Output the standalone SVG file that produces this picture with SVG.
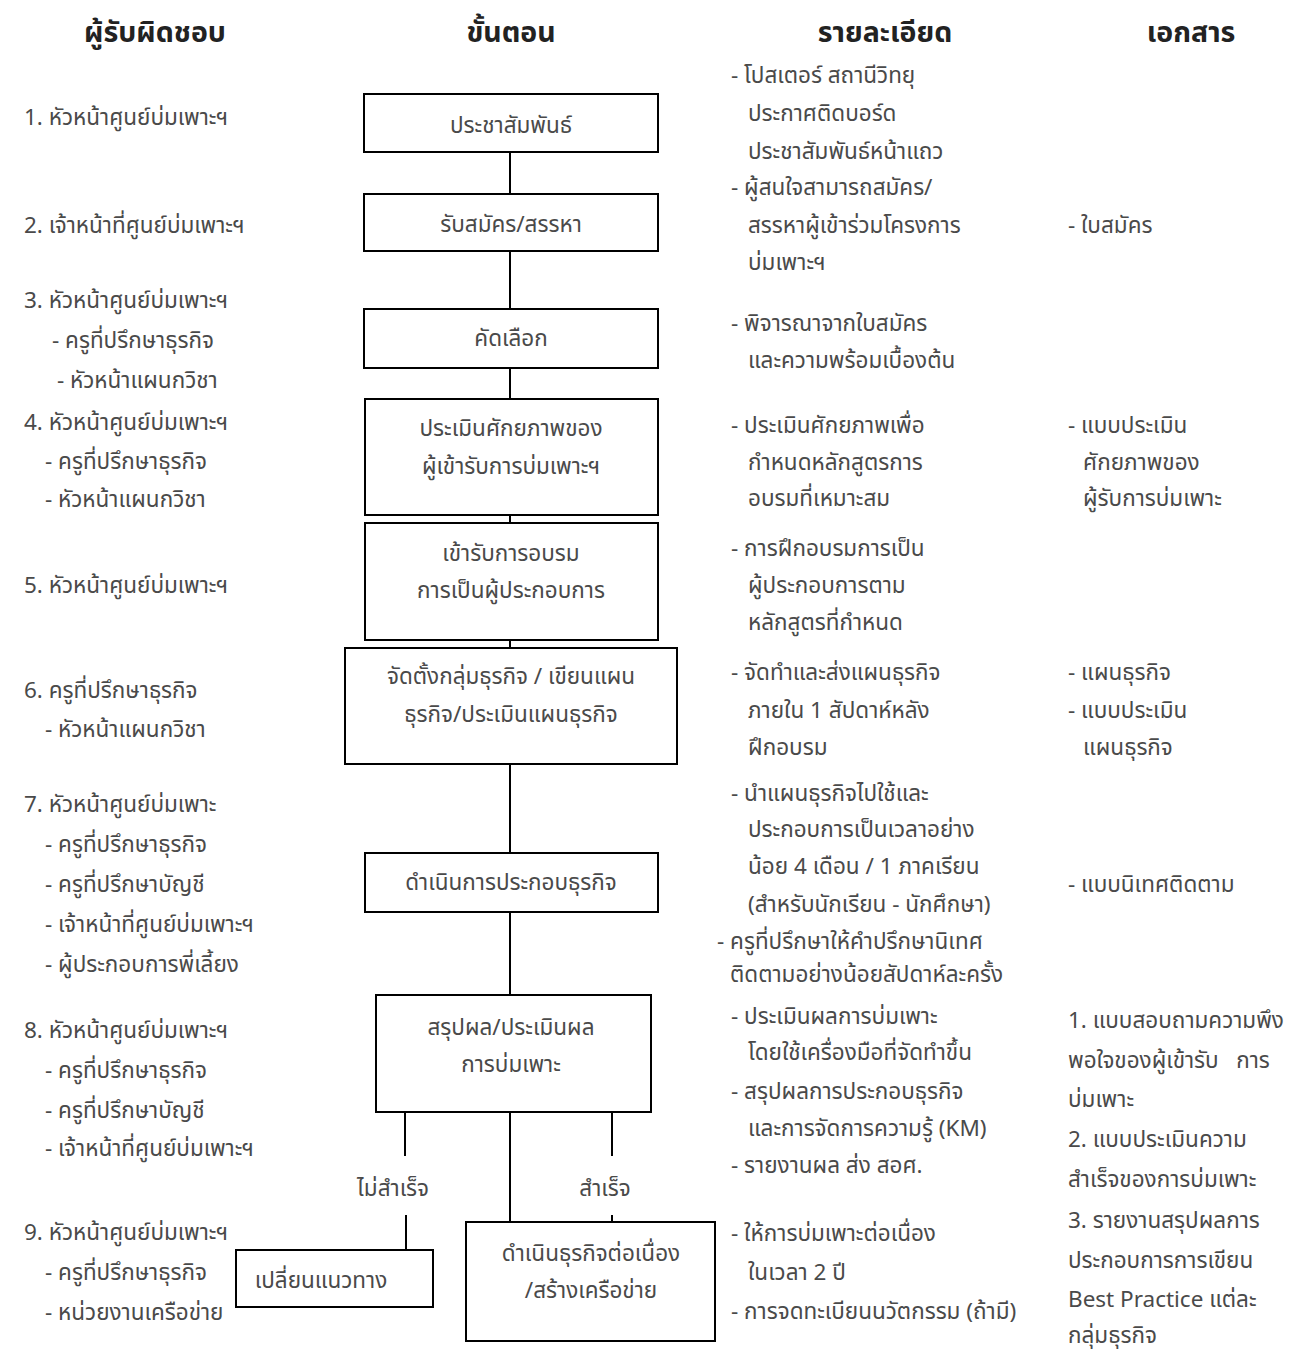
<svg xmlns="http://www.w3.org/2000/svg" width="1309" height="1353" viewBox="0 0 1309 1353">
<style>
.h{font-family:"Noto Sans Thai","Leelawadee UI",Tahoma,"Noto Sans","DejaVu Sans",sans-serif;font-size:28.5px;font-weight:bold;fill:#222;text-anchor:middle}
.t{font-family:"Noto Sans Thai","Leelawadee UI",Tahoma,"Noto Sans","DejaVu Sans",sans-serif;font-size:22.5px;fill:#4a4a4a}
.c{text-anchor:middle}
.box{fill:#fff;stroke:#000;stroke-width:2}
.ln{stroke:#000;stroke-width:2;fill:none}
</style>
<rect width="1309" height="1353" fill="#fff"/>
<g id="headers">
<text class="h" x="155" y="42">ผู้รับผิดชอบ</text>
<text class="h" x="511" y="42">ขั้นตอน</text>
<text class="h" x="885" y="42">รายละเอียด</text>
<text class="h" x="1191" y="42">เอกสาร</text>
</g>
<g id="connectors">
<line class="ln" x1="510" y1="152" x2="510" y2="194"/>
<line class="ln" x1="510" y1="251" x2="510" y2="309"/>
<line class="ln" x1="510" y1="368" x2="510" y2="399"/>
<line class="ln" x1="510" y1="515" x2="510" y2="523"/>
<line class="ln" x1="510" y1="640" x2="510" y2="648"/>
<line class="ln" x1="510" y1="764" x2="510" y2="853"/>
<line class="ln" x1="510" y1="912" x2="510" y2="995"/>
<line class="ln" x1="510" y1="1112" x2="510" y2="1222"/>
<line class="ln" x1="405" y1="1112" x2="405" y2="1156"/>
<line class="ln" x1="612" y1="1112" x2="612" y2="1156"/>
<line class="ln" x1="406" y1="1215" x2="406" y2="1250"/>
<line class="ln" x1="612" y1="1215" x2="612" y2="1222"/>
<text class="t c" x="393" y="1196">ไม่สำเร็จ</text>
<text class="t c" x="605" y="1196">สำเร็จ</text>
</g>
<g id="n1"><rect class="box" x="364" y="94" width="294" height="58"/><text class="t c" x="511" y="133">ประชาสัมพันธ์</text></g>
<g id="n2"><rect class="box" x="364" y="194" width="294" height="57"/><text class="t c" x="511" y="232">รับสมัคร/สรรหา</text></g>
<g id="n3"><rect class="box" x="364" y="309" width="294" height="59"/><text class="t c" x="511" y="346">คัดเลือก</text></g>
<g id="n4"><rect class="box" x="365" y="399" width="293" height="116"/><text class="t c" x="511" y="436">ประเมินศักยภาพของ</text><text class="t c" x="511" y="474">ผู้เข้ารับการบ่มเพาะฯ</text></g>
<g id="n5"><rect class="box" x="365" y="523" width="293" height="117"/><text class="t c" x="511" y="561">เข้ารับการอบรม</text><text class="t c" x="511" y="598">การเป็นผู้ประกอบการ</text></g>
<g id="n6"><rect class="box" x="345" y="648" width="332" height="116"/><text class="t c" x="511" y="684">จัดตั้งกลุ่มธุรกิจ / เขียนแผน</text><text class="t c" x="511" y="722">ธุรกิจ/ประเมินแผนธุรกิจ</text></g>
<g id="n7"><rect class="box" x="365" y="853" width="293" height="59"/><text class="t c" x="511" y="890">ดำเนินการประกอบธุรกิจ</text></g>
<g id="n8"><rect class="box" x="376" y="995" width="275" height="117"/><text class="t c" x="511" y="1035">สรุปผล/ประเมินผล</text><text class="t c" x="511" y="1072">การบ่มเพาะ</text></g>
<g id="n9a"><rect class="box" x="236" y="1250" width="197" height="57"/><text class="t c" x="321" y="1288">เปลี่ยนแนวทาง</text></g>
<g id="n9b"><rect class="box" x="466" y="1222" width="249" height="119"/><text class="t c" x="591" y="1261">ดำเนินธุรกิจต่อเนื่อง</text><text class="t c" x="591" y="1298">/สร้างเครือข่าย</text></g>
<g id="responsible">
<text class="t" x="24" y="125">1. หัวหน้าศูนย์บ่มเพาะฯ</text>
<text class="t" x="24" y="233">2. เจ้าหน้าที่ศูนย์บ่มเพาะฯ</text>
<text class="t" x="24" y="308">3. หัวหน้าศูนย์บ่มเพาะฯ</text>
<text class="t" x="52" y="348">- ครูที่ปรึกษาธุรกิจ</text>
<text class="t" x="57" y="388">- หัวหน้าแผนกวิชา</text>
<text class="t" x="24" y="430">4. หัวหน้าศูนย์บ่มเพาะฯ</text>
<text class="t" x="45" y="469">- ครูที่ปรึกษาธุรกิจ</text>
<text class="t" x="45" y="507">- หัวหน้าแผนกวิชา</text>
<text class="t" x="24" y="593">5. หัวหน้าศูนย์บ่มเพาะฯ</text>
<text class="t" x="24" y="698">6. ครูที่ปรึกษาธุรกิจ</text>
<text class="t" x="45" y="737">- หัวหน้าแผนกวิชา</text>
<text class="t" x="24" y="812">7. หัวหน้าศูนย์บ่มเพาะ</text>
<text class="t" x="45" y="852">- ครูที่ปรึกษาธุรกิจ</text>
<text class="t" x="45" y="892">- ครูที่ปรึกษาบัญชี</text>
<text class="t" x="45" y="932">- เจ้าหน้าที่ศูนย์บ่มเพาะฯ</text>
<text class="t" x="45" y="972">- ผู้ประกอบการพี่เลี้ยง</text>
<text class="t" x="24" y="1038">8. หัวหน้าศูนย์บ่มเพาะฯ</text>
<text class="t" x="45" y="1078">- ครูที่ปรึกษาธุรกิจ</text>
<text class="t" x="45" y="1118">- ครูที่ปรึกษาบัญชี</text>
<text class="t" x="45" y="1156">- เจ้าหน้าที่ศูนย์บ่มเพาะฯ</text>
<text class="t" x="24" y="1240">9. หัวหน้าศูนย์บ่มเพาะฯ</text>
<text class="t" x="45" y="1280">- ครูที่ปรึกษาธุรกิจ</text>
<text class="t" x="45" y="1320">- หน่วยงานเครือข่าย</text>
</g>
<g id="details">
<text class="t" x="731" y="83">- โปสเตอร์ สถานีวิทยุ</text>
<text class="t" x="748" y="121">ประกาศติดบอร์ด</text>
<text class="t" x="748" y="159">ประชาสัมพันธ์หน้าแถว</text>
<text class="t" x="731" y="195">- ผู้สนใจสามารถสมัคร/</text>
<text class="t" x="748" y="233">สรรหาผู้เข้าร่วมโครงการ</text>
<text class="t" x="748" y="270">บ่มเพาะฯ</text>
<text class="t" x="731" y="331">- พิจารณาจากใบสมัคร</text>
<text class="t" x="748" y="368">และความพร้อมเบื้องต้น</text>
<text class="t" x="731" y="433">- ประเมินศักยภาพเพื่อ</text>
<text class="t" x="748" y="470">กำหนดหลักสูตรการ</text>
<text class="t" x="748" y="506">อบรมที่เหมาะสม</text>
<text class="t" x="731" y="556">- การฝึกอบรมการเป็น</text>
<text class="t" x="748" y="593">ผู้ประกอบการตาม</text>
<text class="t" x="748" y="630">หลักสูตรที่กำหนด</text>
<text class="t" x="731" y="680">- จัดทำและส่งแผนธุรกิจ</text>
<text class="t" x="748" y="718">ภายใน 1 สัปดาห์หลัง</text>
<text class="t" x="748" y="755">ฝึกอบรม</text>
<text class="t" x="731" y="801">- นำแผนธุรกิจไปใช้และ</text>
<text class="t" x="748" y="837">ประกอบการเป็นเวลาอย่าง</text>
<text class="t" x="748" y="874">น้อย 4 เดือน / 1 ภาคเรียน</text>
<text class="t" x="748" y="912">(สำหรับนักเรียน - นักศึกษา)</text>
<text class="t" x="717" y="949">- ครูที่ปรึกษาให้คำปรึกษานิเทศ</text>
<text class="t" x="730" y="982">ติดตามอย่างน้อยสัปดาห์ละครั้ง</text>
<text class="t" x="731" y="1024">- ประเมินผลการบ่มเพาะ</text>
<text class="t" x="748" y="1060">โดยใช้เครื่องมือที่จัดทำขึ้น</text>
<text class="t" x="731" y="1099">- สรุปผลการประกอบธุรกิจ</text>
<text class="t" x="748" y="1136">และการจัดการความรู้ (KM)</text>
<text class="t" x="731" y="1173">- รายงานผล ส่ง สอศ.</text>
<text class="t" x="731" y="1241">- ให้การบ่มเพาะต่อเนื่อง</text>
<text class="t" x="748" y="1280">ในเวลา 2 ปี</text>
<text class="t" x="731" y="1319">- การจดทะเบียนนวัตกรรม (ถ้ามี)</text>
</g>
<g id="documents">
<text class="t" x="1068" y="233">- ใบสมัคร</text>
<text class="t" x="1068" y="433">- แบบประเมิน</text>
<text class="t" x="1083" y="470">ศักยภาพของ</text>
<text class="t" x="1083" y="506">ผู้รับการบ่มเพาะ</text>
<text class="t" x="1068" y="680">- แผนธุรกิจ</text>
<text class="t" x="1068" y="718">- แบบประเมิน</text>
<text class="t" x="1083" y="755">แผนธุรกิจ</text>
<text class="t" x="1068" y="892">- แบบนิเทศติดตาม</text>
<text class="t" x="1068" y="1028">1. แบบสอบถามความพึง</text>
<text class="t" x="1068" y="1068" xml:space="preserve">พอใจของผู้เข้ารับ   การ</text>
<text class="t" x="1068" y="1107">บ่มเพาะ</text>
<text class="t" x="1068" y="1147">2. แบบประเมินความ</text>
<text class="t" x="1068" y="1187">สำเร็จของการบ่มเพาะ</text>
<text class="t" x="1068" y="1228">3. รายงานสรุปผลการ</text>
<text class="t" x="1068" y="1268">ประกอบการการเขียน</text>
<text class="t" x="1068" y="1307">Best Practice แต่ละ</text>
<text class="t" x="1068" y="1343">กลุ่มธุรกิจ</text>
</g>
</svg>
